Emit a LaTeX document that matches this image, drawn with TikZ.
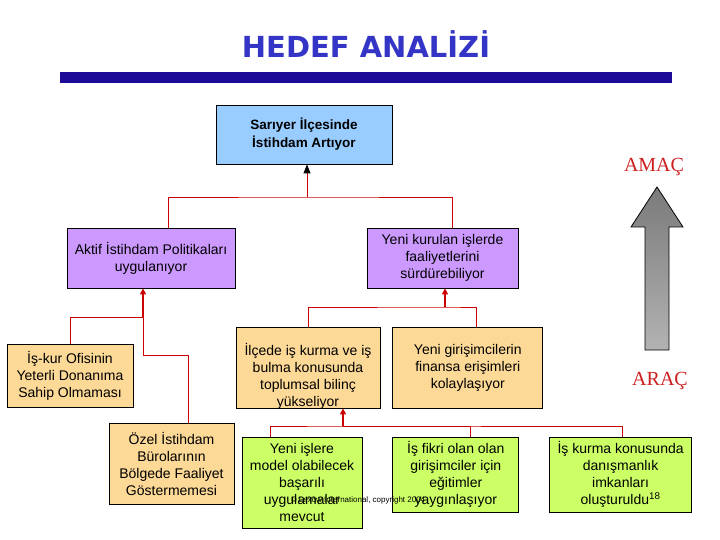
\documentclass[tikz,border=0pt]{standalone}
\usepackage{fontspec}
\setmainfont{Liberation Sans}
\newfontfamily\titlefont{DejaVu Sans}
\newfontfamily\labelfont{Liberation Serif}
\usetikzlibrary{positioning,arrows.meta,calc}
\definecolor{titleblue}{HTML}{3434C6}
\definecolor{barblue}{HTML}{1C0A99}
\definecolor{goalblue}{HTML}{99CCFF}
\definecolor{lilac}{HTML}{CC99FF}
\definecolor{sand}{HTML}{FCD996}
\definecolor{lime}{HTML}{CCFF66}
\definecolor{linkred}{HTML}{CC0000}
\definecolor{labelred}{HTML}{CC1F1F}

\begin{document}
\begin{tikzpicture}[
  x=1pt, y=-1pt,
  font=\fontsize{14}{17}\selectfont,
  box/.style={draw, line width=0.8pt, align=center, inner sep=2pt},
  link/.style={draw=linkred, line width=0.8pt},
  arr/.style={linkred, line width=1.8pt, -{Triangle[length=6pt,width=6pt]}},
  goalarr/.style={linkred, line width=0.8pt, -{Triangle[length=9pt,width=7pt,color=black]}},
  side/.style={font=\labelfont\fontsize{20}{20}\selectfont, text=labelred, anchor=base},
]
  \useasboundingbox (0,0) rectangle (720,540);

  \node[font=\titlefont\bfseries\fontsize{29}{30}\selectfont, text=titleblue] (title) at (366,44) {HEDEF ANALİZİ};
  \fill[barblue] (60,72) rectangle (672,83);

  \node[box, fill=goalblue, minimum width=176pt, minimum height=59pt, font=\fontsize{13.5}{18}\selectfont\bfseries] (goal) at (304,134.5) {Sarıyer İlçesinde\\İstihdam Artıyor};

  \node[box, fill=lilac, minimum width=168pt, minimum height=60pt] (aktif) at (151,258) {Aktif İstihdam Politikaları\\uygulanıyor};
  \node[box, fill=lilac, minimum width=151pt, minimum height=60pt] (yeni) at (442.5,258) {Yeni kurulan işlerde\\faaliyetlerini\\sürdürebiliyor};

  \node[box, fill=sand, minimum width=126pt, minimum height=63pt] (iskur) at (70,375.5) {İş-kur Ofisinin\\Yeterli Donanıma\\Sahip Olmaması};
  \node[box, fill=sand, minimum width=125pt, minimum height=81pt] (ozel) at (171.5,463.5) {Özel İstihdam\\Bürolarının\\Bölgede Faaliyet\\Göstermemesi};
  \node[box, fill=sand, minimum width=144pt, minimum height=81pt,
    label={[align=center, yshift=-9pt]center:İlçede iş kurma ve iş\\bulma konusunda\\toplumsal bilinç\\yükseliyor}] (ilcede) at (308,367.5) {};
  \node[box, fill=sand, minimum width=150pt, minimum height=81pt,
    right=12pt of ilcede.north east, anchor=north west] (yenigir) {Yeni girişimcilerin\\finansa erişimleri\\kolaylaşıyor};

  \node[box, fill=lime, minimum width=120pt, minimum height=91pt] (g1) at (302,482.5) {Yeni işlere\\model olabilecek\\başarılı\\uygulamalar\\mevcut};
  \node[box, fill=lime, minimum width=126pt, minimum height=75pt,
    right=30pt of g1.north east, anchor=north west] (g2) {İş fikri olan olan\\girişimciler için\\eğitimler\\yaygınlaşıyor};
  \node[box, fill=lime, minimum width=142pt, minimum height=75pt,
    right=30pt of g2.north east, anchor=north west] (g3) {İş kurma konusunda\\danışmanlık\\imkanları\\oluşturuldu\textsuperscript{18}};

  \node[font=\fontsize{8}{9}\selectfont] (footer) at (358,500) {© Lexow International, copyright 2004};

  \node[side] (amac) at (654,172) {AMAÇ};
  \node[side] (arac) at (660,385) {ARAÇ};
  \draw[line width=0.8pt, top color=black!52, bottom color=black!30]
    (645,350) -- (645,227) -- (631,227) -- (657,187) -- (683,227) -- (669,227) -- (669,350) -- cycle;

  \coordinate (b1) at (307,197);
  \coordinate (b2) at (143,317);
  \coordinate (b3) at (445,307);
  \coordinate (b4) at (343,426);

  \draw[goalarr] (b1) -- (goal.south -| b1);
  \draw[link] ($(aktif.north)+(17,0)$) |- (b1) -| ($(yeni.north)+(9.5,0)$);

  \draw[arr] (b2) -- (aktif.south -| b2);
  \draw[link] (iskur.north) |- (b2);
  \draw[link] (b2) -- ++(0,38) -| ($(ozel.north)+(16.5,0)$);

  \draw[arr] (b3) -- (yeni.south -| b3);
  \draw[link] (ilcede.north) |- (b3) -| ($(yenigir.north)+(9,0)$);

  \draw[arr] (b4) -- (ilcede.south -| b4);
  \draw[link] ($(g1.north)+(-32,0)$) |- (b4) -| ($(g3.north)+(2,0)$);
  \draw[link] ($(g2.north)+(15,0)$) |- (b4);
\end{tikzpicture}
\end{document}
